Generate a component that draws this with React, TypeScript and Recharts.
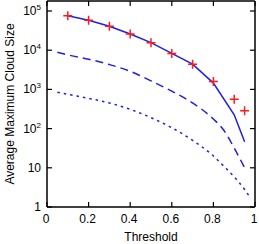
import {
  ComposedChart, Line, Scatter, XAxis, YAxis, ReferenceLine,
} from "recharts";

// solid line (model), red crosses (measured), dashed and dotted curves
const solidX = [0.1, 0.2, 0.3, 0.4, 0.5, 0.6, 0.7, 0.8, 0.9, 0.95];
const solidY = [7.6e4, 5.8e4, 4.1e4, 2.6e4, 1.56e4, 8.3e3, 4.4e3, 1.45e3, 225, 46];

const crossX = [0.1, 0.2, 0.3, 0.4, 0.5, 0.6, 0.7, 0.8, 0.9, 0.95];
const crossY = [7.6e4, 5.8e4, 4.1e4, 2.6e4, 1.56e4, 8.3e3, 4.4e3, 1.6e3, 560, 285];

const dashX = [0.05, 0.1, 0.2, 0.3, 0.4, 0.5, 0.6, 0.7, 0.8, 0.85, 0.9, 0.95];
const dashY = [8.9e3, 7.6e3, 5.9e3, 4.3e3, 2.9e3, 1.65e3, 900, 450, 175, 91, 32, 10];

const dotX = [0.05, 0.1, 0.2, 0.3, 0.4, 0.5, 0.6, 0.7, 0.8, 0.85, 0.9, 0.95, 0.975];
const dotY = [850, 750, 590, 450, 310, 190, 105, 50, 20, 11, 5.9, 2.8, 1.8];

const xTicks = [0, 0.2, 0.4, 0.6, 0.8, 1];
const yTicks = [1, 10, 100, 1e3, 1e4, 1e5];
const Y_MAX = 1.8e5;

const zip = (xs: number[], ys: number[]) => xs.map((x, i) => ({ x, y: ys[i] }));

const W = 259;
const H = 244;
const M = { top: 1, right: 4, left: 0, bottom: 0 };
const YW = 47;
const XH = 37;
const PL = M.left + YW;
const PR = W - M.right;
const PT = M.top;
const PB = H - M.bottom - XH;

const FONT = "'Liberation Sans', Arial, sans-serif";
const BLUE = "#1f1fe8";

const YTick = ({ y, payload }: any) => {
  const v = payload.value as number;
  const e = Math.round(Math.log10(v));
  return (
    <g>
      <line x1={PL} x2={PL + 5} y1={y} y2={y} stroke="#000" strokeWidth={1.2} />
      <line x1={PR - 5} x2={PR} y1={y} y2={y} stroke="#000" strokeWidth={1.2} />
      <text x={PL - 6} y={y} dy={4} textAnchor="end" fontSize={12} fontFamily={FONT} fill="#000">
        {e === 0 ? "1" : e === 1 ? "10" : (
          <>
            <tspan>10</tspan>
            <tspan dy={-5} fontSize={8}>{e}</tspan>
          </>
        )}
      </text>
    </g>
  );
};

const XTick = ({ x, payload }: any) => (
  <g>
    <line x1={x} x2={x} y1={PB - 5} y2={PB} stroke="#000" strokeWidth={1.2} />
    <line x1={x} x2={x} y1={PT} y2={PT + 5} stroke="#000" strokeWidth={1.2} />
    <text x={x - 1} y={PB + 16} textAnchor="middle" fontSize={12} fontFamily={FONT} fill="#000">
      {payload.value}
    </text>
  </g>
);

const Cross = ({ cx, cy }: any) => (
  <path
    d={`M${cx - 4.5},${cy}H${cx + 4.5}M${cx},${cy - 4.5}V${cy + 4.5}`}
    stroke="#ff1a1a"
    strokeWidth={1.5}
    fill="none"
  />
);

export default function App() {
  return (
    <div style={{ position: "absolute", left: 0, top: 0, background: "#fff" }}>
      <ComposedChart width={W} height={H} margin={M}>
        <XAxis
          type="number"
          dataKey="x"
          domain={[0, 1]}
          ticks={xTicks}
          tick={<XTick />}
          tickLine={false}
          height={XH}
          axisLine={{ stroke: "#000", strokeWidth: 1.5 }}
          label={{
            value: "Threshold",
            position: "insideBottom",
            offset: 3,
            fontSize: 12,
            fontFamily: FONT,
            fill: "#000",
          }}
        />
        <YAxis
          type="number"
          scale="log"
          domain={[1, Y_MAX]}
          allowDataOverflow
          ticks={yTicks}
          tick={<YTick />}
          tickLine={false}
          width={YW}
          axisLine={{ stroke: "#000", strokeWidth: 1.5 }}
          label={{
            value: "Average Maximum Cloud Size",
            angle: -90,
            position: "insideLeft",
            offset: 10,
            style: { textAnchor: "middle" },
            fontSize: 12,
            fontFamily: FONT,
            fill: "#000",
          }}
        />
        <ReferenceLine x={1} stroke="#000" strokeWidth={1.5} />
        <ReferenceLine y={Y_MAX} stroke="#000" strokeWidth={1.5} />
        <Line
          data={zip(dotX, dotY)}
          dataKey="y"
          type="monotone"
          stroke={BLUE}
          strokeWidth={1.5}
          strokeDasharray="2.5 4"
          dot={false}
          isAnimationActive={false}
        />
        <Line
          data={zip(dashX, dashY)}
          dataKey="y"
          type="monotone"
          stroke={BLUE}
          strokeWidth={1.5}
          strokeDasharray="8 5"
          dot={false}
          isAnimationActive={false}
        />
        <Line
          data={zip(solidX, solidY)}
          dataKey="y"
          type="linear"
          stroke={BLUE}
          strokeWidth={1.5}
          dot={false}
          isAnimationActive={false}
        />
        <Scatter
          data={zip(crossX, crossY)}
          dataKey="y"
          shape={<Cross />}
          isAnimationActive={false}
        />
      </ComposedChart>
    </div>
  );
}
